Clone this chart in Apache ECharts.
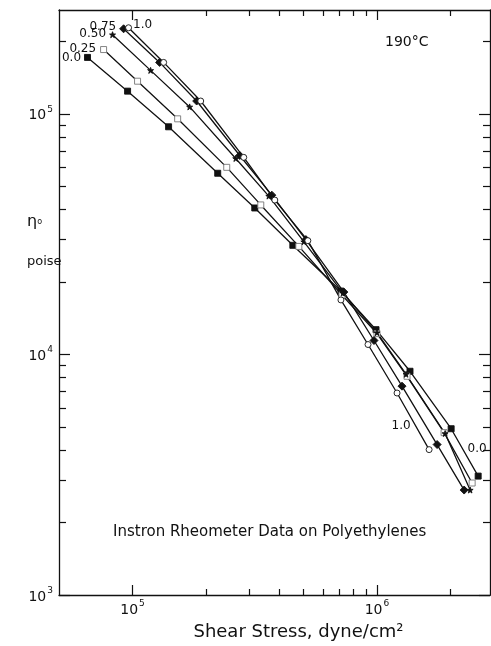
<!DOCTYPE html>
<html><head><meta charset="utf-8">
<script src="https://cdn.jsdelivr.net/npm/echarts@6/dist/echarts.min.js"></script>
<style>html,body{margin:0;padding:0;background:#fff}#c{width:491px;height:646px}</style>
</head><body><div id="c"></div>
<script>
// Shear stress (dyne/cm2) and apparent viscosity eta0 (poise) per blend fraction
const stress00 = [6.54e4, 9.54e4, 1.404e5, 2.23e5, 3.162e5, 4.526e5, 7.12e5, 9.91e5, 1.365e6, 2.011e6, 2.594e6];
const eta00    = [1.715e5, 1.242e5, 8.83e4, 5.66e4, 4.06e4, 2.84e4, 1.833e4, 1.267e4, 8.51e3, 4.91e3, 3.12e3];
const stress025 = [7.61e4, 1.048e5, 1.529e5, 2.428e5, 3.346e5, 4.789e5, 7.19e5, 1.0e6, 1.327e6, 1.882e6, 2.451e6];
const eta025    = [1.849e5, 1.366e5, 9.53e4, 5.99e4, 4.18e4, 2.81e4, 1.765e4, 1.22e4, 8.11e3, 4.73e3, 2.92e3];
const stress050 = [8.28e4, 1.185e5, 1.712e5, 2.643e5, 3.609e5, 5.02e5, 7.26e5, 1.0e6, 1.315e6, 1.9e6, 2.405e6];
const eta050    = [2.131e5, 1.515e5, 1.068e5, 6.52e4, 4.55e4, 2.94e4, 1.799e4, 1.231e4, 8.27e3, 4.69e3, 2.73e3];
const stress075 = [9.19e4, 1.29e5, 1.829e5, 2.745e5, 3.713e5, 5.117e5, 7.32e5, 9.72e5, 1.266e6, 1.762e6, 2.273e6];
const eta075    = [2.256e5, 1.635e5, 1.13e5, 6.71e4, 4.59e4, 3.0e4, 1.816e4, 1.142e4, 7.38e3, 4.22e3, 2.73e3];
const stress100 = [9.63e4, 1.34e5, 1.9e5, 2.85e5, 3.819e5, 5.214e5, 7.12e5, 9.19e5, 1.208e6, 1.634e6];
const eta100    = [2.278e5, 1.635e5, 1.13e5, 6.59e4, 4.38e4, 2.97e4, 1.684e4, 1.099e4, 6.91e3, 4.02e3];

const seriesNames = ['0.0', '0.25', '0.50', '0.75', '1.0'];
const xMajorTicks = [1e5, 1e6];
const xMinorTicks = [2e5, 3e5, 4e5, 5e5, 6e5, 7e5, 8e5, 9e5, 2e6];
const yMajorTicks = [1e3, 1e4, 1e5];
const yMinorTicks = [2e3, 3e3, 4e3, 5e3, 6e3, 7e3, 8e3, 9e3, 2e4, 3e4, 4e4, 5e4, 6e4, 7e4, 8e4, 9e4, 2e5];
const xMin = 5e4, xMax = 2.9e6, yMin = 1e3, yMax = 2.7e5;

const FONT = 'DejaVu Sans';
const INK = '#111';

function powLabel(v) {
  const e = Math.round(Math.log10(v));
  return '{b|10}{s|' + e + '}';
}
const powRich = {
  b: { fontSize: 14, fontFamily: FONT, color: INK, lineHeight: 18, verticalAlign: 'bottom' },
  s: { fontSize: 9, fontFamily: FONT, color: INK, verticalAlign: 'top', padding: [0, 0, 6, 1] }
};

function xAxisDef(pos, major, withLine, withLabel, name) {
  const a = {
    type: 'log', logBase: 10, gridIndex: 0, position: pos, min: xMin, max: xMax,
    axisLine: { show: withLine, lineStyle: { color: INK, width: 1.3 } },
    axisTick: { show: true, inside: true, length: major ? 10 : 6, customValues: major ? xMajorTicks : xMinorTicks,
                lineStyle: { color: INK, width: 1.2 } },
    axisLabel: { show: withLabel, customValues: xMajorTicks, formatter: powLabel, rich: powRich, margin: 4 },
    splitLine: { show: false }, minorTick: { show: false }
  };
  if (name) {
    a.name = name; a.nameLocation = 'middle'; a.nameGap = 28;
    a.nameTextStyle = { fontSize: 18, fontFamily: FONT, color: INK, padding: [0, 0, 0, 48] };
  }
  return a;
}
function yAxisDef(pos, major, withLine, withLabel) {
  return {
    type: 'log', logBase: 10, gridIndex: 0, position: pos, min: yMin, max: yMax,
    axisLine: { show: withLine, lineStyle: { color: INK, width: 1.3 } },
    axisTick: { show: true, inside: true, length: major ? 11 : 7, customValues: major ? yMajorTicks : yMinorTicks,
                lineStyle: { color: INK, width: 1.2 } },
    axisLabel: { show: withLabel, customValues: yMajorTicks, formatter: powLabel, rich: powRich, margin: 6 },
    splitLine: { show: false }, minorTick: { show: false }
  };
}

const starPath = 'path://M0,-10L2.4,-3.2L9.5,-3.1L3.8,1.2L5.9,8.1L0,4L-5.9,8.1L-3.8,1.2L-9.5,-3.1L-2.4,-3.2Z';

function makeSeries(name, xs, ys, symbol, size, fill, border, startLabel, endLabel) {
  const data = xs.map((x, i) => {
    const item = { value: [x, ys[i]] };
    if (i === 0 && startLabel) item.label = startLabel;
    if (i === xs.length - 1 && endLabel) item.label = endLabel;
    return item;
  });
  return {
    name: name, type: 'line', xAxisIndex: 0, yAxisIndex: 0, data: data,
    symbol: symbol, symbolSize: size, showAllSymbols: true, smooth: false,
    lineStyle: { color: INK, width: 1.3 },
    itemStyle: { color: fill, borderColor: border, borderWidth: 0.9 },
    label: { show: false, fontSize: 12, fontFamily: FONT, color: INK },
    emphasis: { disabled: true }, animation: false, z: 3
  };
}
const lblStyle = { fontSize: 12, fontFamily: FONT, color: INK };
function startLbl(text, pos, dist, off) {
  return Object.assign({ show: true, position: pos, distance: dist, formatter: text, offset: off || [0, 0] }, lblStyle);
}

const series = [
  makeSeries(seriesNames[0], stress00, eta00, 'rect', 6, INK, INK,
    startLbl(seriesNames[0], 'left', 3), startLbl(seriesNames[0], 'top', 5, [-1, -13])),
  makeSeries(seriesNames[1], stress025, eta025, 'rect', 6, '#fff', '#777',
    startLbl(seriesNames[1], 'left', 4, [0, -1]), null),
  makeSeries(seriesNames[2], stress050, eta050, starPath, 6, INK, INK,
    startLbl(seriesNames[2], 'left', 3, [0, -1]), null),
  makeSeries(seriesNames[3], stress075, eta075, 'diamond', 8, INK, INK,
    startLbl(seriesNames[3], 'left', 3, [0, -2]), null),
  makeSeries(seriesNames[4], stress100, eta100, 'circle', 6, '#fff', INK,
    startLbl(seriesNames[4], 'right', 3, [-2, -3]), startLbl(seriesNames[4], 'left', 5, [-10, -24]))
];

const chart = echarts.init(document.getElementById('c'), null, { renderer: 'canvas' });
chart.setOption({
  backgroundColor: '#fff',
  animation: false,
  grid: { left: 59, right: 1, top: 10, bottom: 46, containLabel: false },
  xAxis: [
    xAxisDef('bottom', true, true, true, 'Shear Stress, dyne/cm\u00b2'),
    xAxisDef('bottom', false, false, false),
    xAxisDef('top', true, true, false),
    xAxisDef('top', false, false, false)
  ],
  yAxis: [
    yAxisDef('left', true, true, true),
    yAxisDef('left', false, false, false),
    yAxisDef('right', true, true, false),
    yAxisDef('right', false, false, false)
  ],
  series: series,
  graphic: [
    { type: 'text', left: 385, top: 35, style: { text: '190\u00b0C', fontSize: 14, fontFamily: FONT, fill: INK } },
    { type: 'text', left: 113, top: 525, style: { text: 'Instron Rheometer Data on Polyethylenes', fontSize: 15, fontFamily: FONT, fill: INK } },
    { type: 'text', left: 27, top: 214, style: { text: '{e|\u03b7}{o|o}', rich: { e: { fontSize: 16, fontFamily: FONT, fill: INK }, o: { fontSize: 8, fontFamily: FONT, fill: INK, verticalAlign: 'middle' } } } },
    { type: 'text', left: 27, top: 255, style: { text: 'poise', fontSize: 13, fontFamily: FONT, fill: INK } }
  ]
});
</script>
</body></html>
